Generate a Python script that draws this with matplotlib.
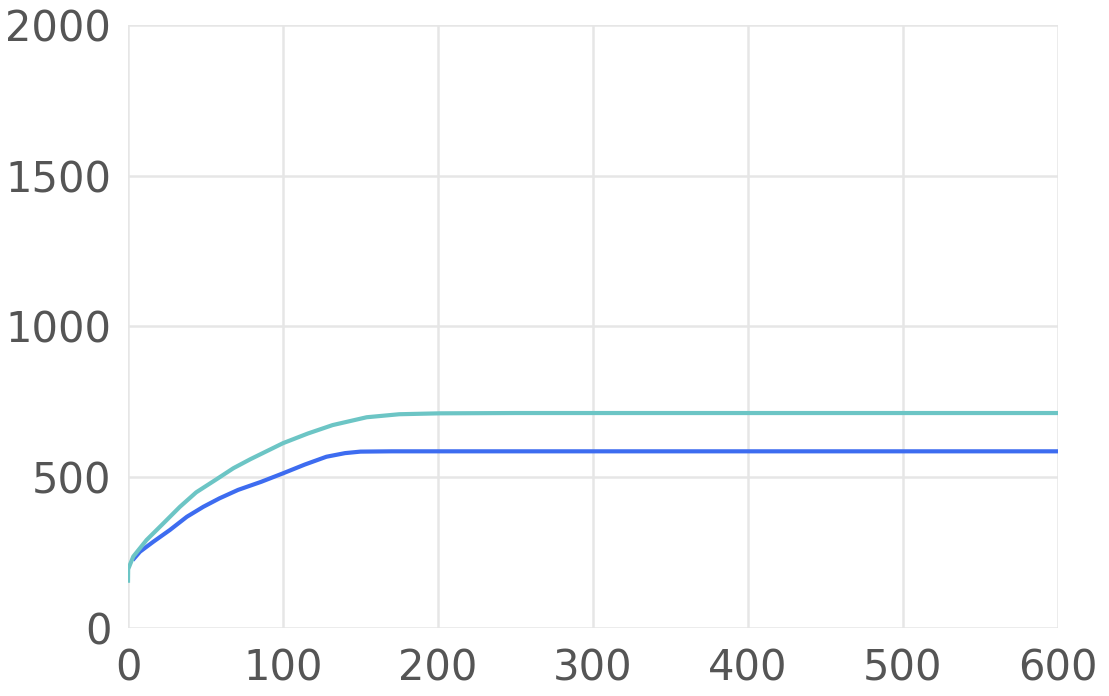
import matplotlib
matplotlib.use("Agg")
import matplotlib.pyplot as plt

teal_x = [0, 0.1, 3.4, 12, 22.8, 33.5, 44, 57, 68, 79, 100, 116, 132, 154, 175, 201, 250, 600]
teal_y = [150, 195, 237, 292, 347, 402, 450, 493, 530, 560, 613, 645, 673, 699, 709, 712, 713, 713]
blue_x = [3, 7.7, 16.3, 27, 38, 48.6, 59, 71, 86, 100, 114, 128, 140, 150, 170, 600]
blue_y = [225, 253, 286, 325, 369, 402, 430, 458, 485, 513, 542, 568, 580, 585, 586, 586]

x_ticks = [0, 100, 200, 300, 400, 500, 600]
y_ticks = [0, 500, 1000, 1500, 2000]

fig = plt.figure(figsize=(11.09, 6.96), dpi=100)
ax = fig.add_axes([128/1109, 1-628/696, (1058-128)/1109, (628-25)/696])
ax.plot(blue_x, blue_y, color="#3d6cf0", lw=3, solid_capstyle="butt",
        solid_joinstyle="round", zorder=3)
ax.plot(teal_x, teal_y, color="#6cc5c5", lw=3, solid_capstyle="butt",
        solid_joinstyle="round", zorder=4)
ax.set_xlim(0, 600)
ax.set_ylim(0, 2000)
ax.set_xticks(x_ticks)
ax.set_yticks(y_ticks)
for s in ax.spines.values():
    s.set_visible(False)
ax.grid(True, color="#e6e6e6", lw=1.8)
ax.set_axisbelow(True)
ax.tick_params(length=0, labelsize=30, labelcolor="#555555")
ax.tick_params(axis="x", pad=14)
ax.tick_params(axis="y", pad=12)
fig.savefig("out.png", dpi=100)
